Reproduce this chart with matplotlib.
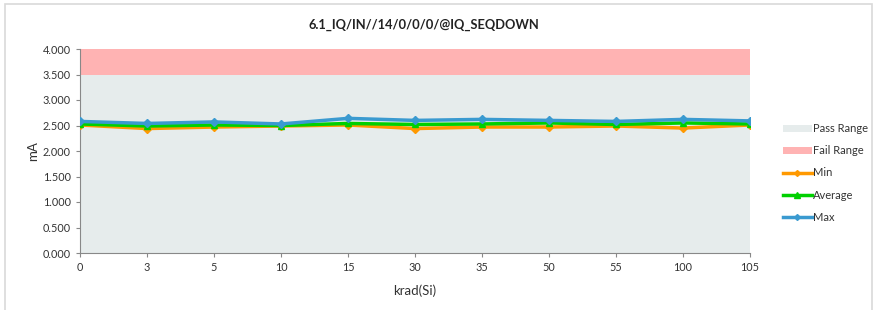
import matplotlib
matplotlib.use("Agg")
import matplotlib.pyplot as plt
from matplotlib.patches import Rectangle, Patch
from matplotlib.lines import Line2D
import numpy as np

plt.rcParams["font.family"] = ["Lato", "DejaVu Sans"]

doses = ["0", "3", "5", "10", "15", "30", "35", "50", "55", "100", "105"]
min_vals = [2.51, 2.44, 2.47, 2.49, 2.51, 2.44, 2.47, 2.47, 2.49, 2.45, 2.51]
avg_vals = [2.53, 2.49, 2.51, 2.50, 2.54, 2.52, 2.53, 2.55, 2.52, 2.55, 2.53]
max_vals = [2.58, 2.54, 2.57, 2.53, 2.64, 2.60, 2.62, 2.60, 2.58, 2.62, 2.59]
pass_limit = 3.5
fail_limit = 4.0

fig = plt.figure(figsize=(8.76, 3.10), dpi=100)
ax = fig.add_axes([80 / 876, 1 - 253 / 310, 670 / 876, 204 / 310])

x = np.arange(len(doses))
ax.fill_between(x, 0, pass_limit, color="#E6ECEC", lw=0, zorder=1)
ax.fill_between(x, pass_limit, fail_limit, color="#FFB3B3", lw=0, zorder=1)

ax.plot(x, min_vals, color="#FF9900", lw=2.5, marker="D", ms=4, zorder=3)
ax.plot(x, avg_vals, color="#00D000", lw=2.5, marker="^", ms=5, zorder=4)
ax.plot(x, max_vals, color="#3A9AD0", lw=2.5, marker="D", ms=4.5, zorder=5)

ax.set_xlim(0, len(doses) - 1)
ax.set_ylim(0, 4.0)
ax.set_xticks(x)
ax.set_xticklabels(doses)
ax.set_yticks(np.arange(0, 4.01, 0.5))
ax.set_yticklabels([f"{v:.3f}" for v in np.arange(0, 4.01, 0.5)])
ax.tick_params(labelsize=7.8, colors="#333333", length=3, color="#888888")
for s in ["top", "right"]:
    ax.spines[s].set_visible(False)
for s in ["left", "bottom"]:
    ax.spines[s].set_color("#888888")

ax.set_xlabel("krad(Si)", fontsize=9.5, color="#333333", labelpad=8)
ax.set_ylabel("mA", fontsize=9.5, color="#333333", labelpad=3)
fig.text(0.5 * (80 + 750) / 876 + 0.01, 1 - 25 / 310, "6.1_IQ/IN//14/0/0/0/@IQ_SEQDOWN",
         ha="center", va="center", fontsize=9.3, fontweight="bold", color="#222222")

handles = [
    Patch(facecolor="#E6ECEC", edgecolor="none", label="Pass Range"),
    Patch(facecolor="#FFB3B3", edgecolor="none", label="Fail Range"),
    Line2D([], [], color="#FF9900", lw=2.5, marker="D", ms=3, label="Min"),
    Line2D([], [], color="#00D000", lw=2.5, marker="^", ms=4, label="Average"),
    Line2D([], [], color="#3A9AD0", lw=2.5, marker="D", ms=3, label="Max"),
]
fig.legend(handles=handles, loc="center left", bbox_to_anchor=(773 / 876, 1 - 173 / 310),
           frameon=False, fontsize=8, handlelength=2.6, handletextpad=0.1,
           labelspacing=1.0, labelcolor="#333333")

fig.patches.append(Rectangle((5 / 876, -0.02), 867 / 876, 1 - 4 / 310 + 0.02,
                             transform=fig.transFigure, fill=False,
                             edgecolor="#D9D9D9", lw=1.2))

fig.savefig("out.png", dpi=100)
